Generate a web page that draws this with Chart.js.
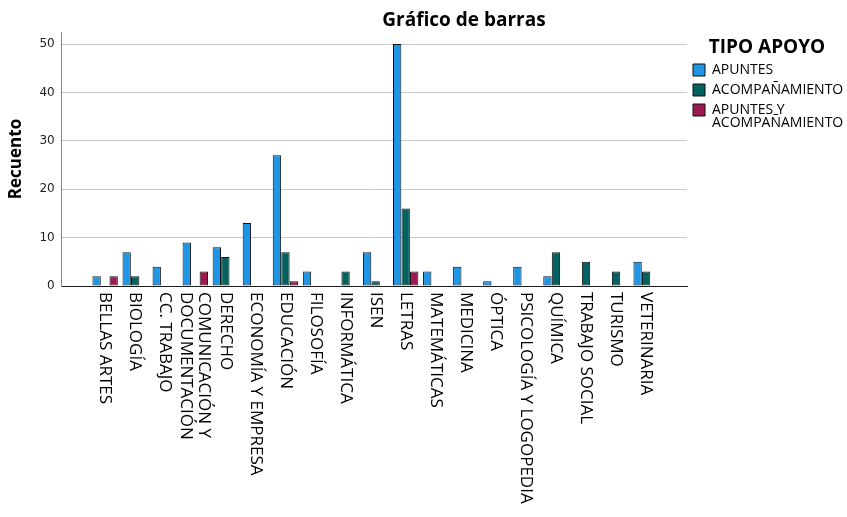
<!DOCTYPE html>
<html>
<head>
<meta charset="utf-8">
<script src="https://cdn.jsdelivr.net/npm/chart.js@4.4.0/dist/chart.umd.min.js"></script>
<style>
    body { margin: 0; background: #fff; }
    #wrap { position: relative; width: 847px; height: 517px; }
    #titulo { position: absolute; top: 7px; left: 464px; transform: translateX(-50%);
              font: bold 19px "Open Sans"; line-height: 24px; white-space: nowrap; color: #000; }
</style>
</head>
<body>
<div id="wrap">
    <canvas id="grafico" width="847" height="517"></canvas>
    <div id="titulo">Gráfico de barras</div>
</div>
<script>
/* categorias (eje x) */
var carreras = ["BELLAS ARTES", "BIOLOGÍA", "CC. TRABAJO", "COMUNICACIÓN Y\nDOCUMENTACIÓN", "DERECHO",
    "ECONOMÍA Y EMPRESA", "EDUCACIÓN", "FILOSOFÍA", "INFORMÁTICA", "ISEN", "LETRAS", "MATEMÁTICAS",
    "MEDICINA", "ÓPTICA", "PSICOLOGÍA Y LOGOPEDIA", "QUÍMICA", "TRABAJO SOCIAL", "TURISMO", "VETERINARIA"];

/* recuentos por tipo de apoyo (null = sin barra) */
var apuntes        = [2, 7, 4, 9, 8, 13, 27, 3, null, 7, 50, 3, 4, 1, 4, 2, null, null, 5];
var acompanamiento = [null, 2, null, null, 6, null, 7, null, 3, 1, 16, null, null, null, null, 7, 5, 3, 3];
var apuntesYAcomp  = [2, null, null, 3, null, null, 1, null, null, null, 3, null, null, null, null, null, null, null, null];

var tiposApoyo = ["APUNTES", "ACOMPAÑAMIENTO", ["APUNTES Y", "ACOMPAÑAMIENTO"]];
var ticksY = [0, 10, 20, 30, 40, 50];

function puntos(valores) {
    return valores.map(function (v, i) { return { x: i, y: v }; });
}

/* etiquetas del eje x giradas hacia abajo, como en SPSS */
var etiquetasX = {
    id: "etiquetasX",
    afterDraw: function (chart) {
        var ctx = chart.ctx;
        var escalaX = chart.scales.x;
        var base = chart.chartArea.bottom + 6;
        ctx.save();
        ctx.font = '17px "Open Sans"';
        ctx.fillStyle = "#000";
        ctx.textAlign = "left";
        ctx.textBaseline = "middle";
        for (var i = 0; i < carreras.length; i++) {
            var lineas = carreras[i].split("\n");
            ctx.save();
            ctx.translate(escalaX.getPixelForValue(i), base);
            ctx.rotate(Math.PI / 2);
            for (var j = 0; j < lineas.length; j++) {
                ctx.fillText(lineas[j], 0, (j - (lineas.length - 1) / 2) * 18);
            }
            ctx.restore();
        }
        ctx.restore();
    }
};

Chart.defaults.font.family = '"Open Sans"';
Chart.defaults.color = "#000";

var ctx = document.getElementById("grafico");
var myChart = new Chart(ctx, {
    type: "bar",
    data: {
        datasets: [{
            label: tiposApoyo[0],
            data: puntos(apuntes),
            backgroundColor: "#1f95e6"
        }, {
            label: tiposApoyo[1],
            data: puntos(acompanamiento),
            backgroundColor: "#03625f"
        }, {
            label: tiposApoyo[2],
            data: puntos(apuntesYAcomp),
            backgroundColor: "#9c1a52"
        }]
    },
    options: {
        responsive: false,
        animation: false,
        datasets: {
            bar: {
                borderColor: "#111",
                borderWidth: 1,
                borderSkipped: false,
                categoryPercentage: 0.85,
                barPercentage: 0.98
            }
        },
        layout: { padding: { top: 32, left: 4, right: 0, bottom: 231 } },
        plugins: {
            tooltip: { enabled: false },
            legend: {
                position: "right",
                align: "start",
                maxWidth: 160,
                title: {
                    display: true,
                    text: "TIPO APOYO",
                    font: { size: 19, weight: "bold", lineHeight: 1 },
                    padding: { top: 6, bottom: 0 }
                },
                labels: {
                    boxWidth: 12,
                    boxHeight: 12,
                    padding: 6,
                    font: { size: 14, lineHeight: "13px" }
                }
            }
        },
        scales: {
            x: {
                type: "linear",
                offset: false,
                min: -1.446,
                max: 19.36,
                grid: { display: false, drawTicks: false, offset: false },
                ticks: { display: false },
                border: { color: "#1e1e1e", width: 1 }
            },
            y: {
                min: ticksY[0],
                max: 52.5,
                grid: { color: "#c8c8c8", drawTicks: false },
                border: { color: "#888", width: 1 },
                ticks: {
                    stepSize: ticksY[1] - ticksY[0],
                    includeBounds: false,
                    padding: 7,
                    color: "#222",
                    font: { family: '"DejaVu Sans"', size: 12 }
                },
                title: {
                    display: true,
                    text: "Recuento",
                    font: { size: 17, weight: "bold" },
                    padding: { top: 2, bottom: 6 }
                }
            }
        }
    },
    plugins: [etiquetasX]
});
</script>
</body>
</html>
